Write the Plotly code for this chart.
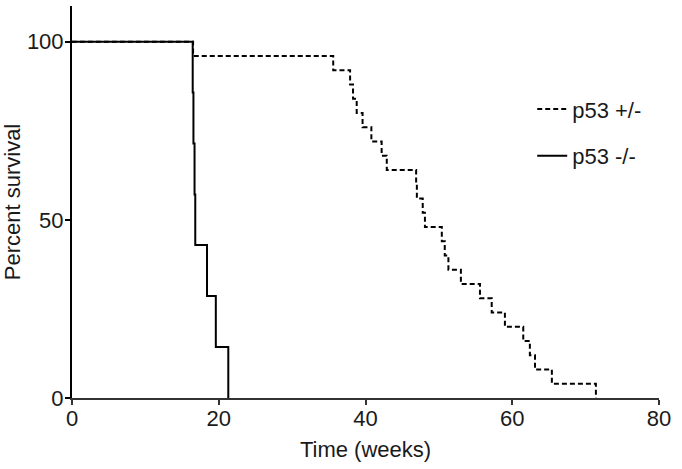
import plotly.graph_objects as go

# p53 +/- (n=25)
het_time = [0, 16.5, 35.6, 37.9, 38.3, 38.8, 39.6, 40.8, 42.2, 42.9, 46.9, 47.0,
            47.8, 48.1, 50.4, 50.8, 51.3, 53.0, 55.6, 57.2, 59.0, 61.5, 62.4,
            63.1, 65.4, 71.4]
het_surv = [100, 96, 92, 88, 84, 80, 76, 72, 68, 64, 60, 56, 52, 48, 44, 40, 36,
            32, 28, 24, 20, 16, 12, 8, 4, 0]

# p53 -/- (n=7)
ko_time = [0, 16.45, 16.55, 16.7, 16.8, 18.4, 19.6, 21.3]
ko_surv = [100, 85.7, 71.4, 57.1, 42.9, 28.6, 14.3, 0]

x_ticks = [0, 20, 40, 60, 80]
y_ticks = [0, 50, 100]

FONT = "Liberation Sans, Arial, sans-serif"
FS = 22

fig = go.Figure()
fig.add_trace(go.Scatter(
    x=het_time, y=het_surv, name="p53 +/-", legendgroup="a",
    mode="lines", line=dict(color="black", width=2, dash="5px,3px", shape="hv"),
))
fig.add_trace(go.Scatter(
    x=ko_time, y=ko_surv, name="p53 -/-", legendgroup="b",
    mode="lines", line=dict(color="black", width=2, shape="hv"),
))

fig.update_layout(
    width=682, height=469,
    margin=dict(l=72, r=23, t=6, b=71),
    paper_bgcolor="white", plot_bgcolor="white",
    font=dict(family=FONT, size=FS, color="#1a1a1a"),
    showlegend=True,
    legend=dict(x=0.784, y=0.79, xanchor="left", yanchor="top",
                bgcolor="rgba(0,0,0,0)",
                tracegroupgap=15, traceorder="grouped",
                font=dict(family=FONT, size=FS)),
)
fig.update_xaxes(
    range=[0, 80], tickvals=x_ticks, ticktext=[str(v) for v in x_ticks],
    automargin=False, ticklabelstandoff=-5,
    showgrid=False, zeroline=False, showline=True, linecolor="#333", linewidth=1.5,
    ticks="outside", ticklen=5, tickwidth=1.5, tickcolor="#333",
    title=dict(text="Time (weeks)", standoff=11, font=dict(size=FS)),
)
fig.update_yaxes(
    range=[0, 110], tickvals=y_ticks, ticktext=[str(v) for v in y_ticks],
    automargin=False, ticklabelstandoff=-3,
    showgrid=False, zeroline=False, showline=True, linecolor="black", linewidth=2,
    ticks="outside", ticklen=5, tickwidth=1.5, tickcolor="black",
    title=dict(text="Percent survival", standoff=4, font=dict(size=FS)),
)

fig.write_html(
    "out.html",
    config={"displayModeBar": False},
    post_script="document.body.style.margin='0';document.body.style.padding='0';",
)
